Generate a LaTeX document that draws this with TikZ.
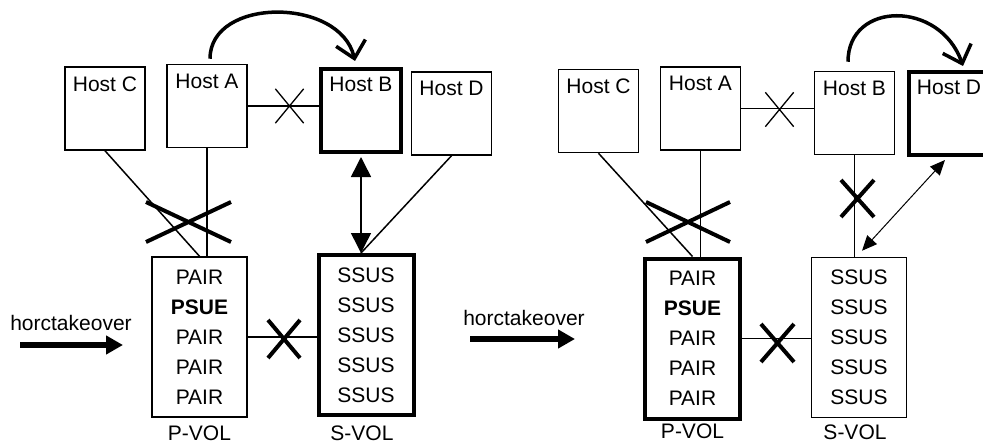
\documentclass[tikz,border=0pt]{standalone}
\usepackage{fontspec}
\setmainfont{Liberation Sans}
\usepackage{tikz}
\usetikzlibrary{arrows.meta,positioning,shapes.misc}

\begin{document}
\begin{tikzpicture}[x=1pt, y=-1pt, >=Stealth, font=\fontsize{21}{30}\selectfont,
    host/.style={draw, line width=1.5pt, minimum width=80pt, minimum height=83pt,
      label={[anchor=north, yshift=-8pt, inner sep=2pt]north:#1}},
    vol/.style={draw, line width=1.5pt, minimum width=95pt, minimum height=160pt, align=center},
    active/.style={line width=4pt},
    link/.style={line width=1.5pt},
    cut/.style={draw, cross out, line width=4pt, inner sep=0pt},
    move/.style={-{Straight Barb[length=16pt, width=30pt]}, line width=3.5pt},
    dual/.style={{Triangle[length=20pt, width=20pt]}-{Triangle[length=20pt, width=20pt]}, line width=1.5pt},
    dualthin/.style={{Triangle[length=15pt, width=13pt]}-{Triangle[length=15pt, width=13pt]}, line width=1pt},
    takeover/.style={-{Triangle[length=17pt, width=18pt]}, line width=6pt}]
  \useasboundingbox (0,0) rectangle (983,444);

  % before horctakeover
  \node[host=Host C] (hostCL) at (105,108.5) {};
  \node[host=Host A] (hostAL) at (207,106) {};
  \node[host=Host B, active] (hostBL) at (361,110.5) {};
  \node[host=Host D] (hostDL) at (451.5,113.5) {};
  \node[vol] (pvolL) at (199.5,337) {PAIR\\\textbf{PSUE}\\PAIR\\PAIR\\PAIR};
  \node[vol, active] (svolL) at (366,335) {SSUS\\SSUS\\SSUS\\SSUS\\SSUS};
  \node[below=5pt of pvolL] (pnameL) {P-VOL};
  \node[below=5pt of svolL, xshift=-4pt] (snameL) {S-VOL};
  \node (tkTextL) at (71,323) {horctakeover};
  \coordinate (tkFromL) at (20,345);
  \coordinate (tkToL) at (123,345);
  \draw[takeover] (tkFromL) -- (tkToL);

  \draw[move] ([xshift=3pt, yshift=5pt]hostAL.north) .. controls +(0,-62) and +(-15,-64) .. ([xshift=-6pt, yshift=6pt]hostBL.north);
  \draw[link] (hostAL.east) -- (hostAL.east -| hostBL.west);
  \draw[link] (hostCL.south) -- (pvolL.north);
  \draw[link] (hostAL.south) -- (hostAL.south |- pvolL.north);
  \draw[dual, shorten <=3pt] (hostBL.south) -- (hostBL.south |- svolL.north);
  \draw[link] (hostDL.south) -- (hostBL.south |- svolL.north);
  \draw[link] (pvolL.east) -- (pvolL.east -| svolL.west);
  \node[cut, minimum width=81pt, minimum height=36pt] (cutCL) at (188.5,222) {};
  \node[cut, line width=1.3pt, minimum width=27pt, minimum height=33pt] (cutABL) at (289.5,106) {};
  \node[cut, minimum width=28pt, minimum height=34pt] (cutPSL) at (284,339) {};

  % after horctakeover
  \node[host=Host C] (hostCR) at (598.5,111) {};
  \node[host=Host A] (hostAR) at (700.5,108.5) {};
  \node[host=Host B] (hostBR) at (854.5,113) {};
  \node[host=Host D, active] (hostDR) at (949,113.5) {};
  \node[vol, active] (pvolR) at (692.5,338.5) {PAIR\\\textbf{PSUE}\\PAIR\\PAIR\\PAIR};
  \node[vol] (svolR) at (859,337.5) {SSUS\\SSUS\\SSUS\\SSUS\\SSUS};
  \node[below=0pt of pvolR] (pnameR) {P-VOL};
  \node[below=3pt of svolR, xshift=-4pt] (snameR) {S-VOL};
  \node (tkTextR) at (524,318) {horctakeover};
  \coordinate (tkFromR) at (470,339);
  \coordinate (tkToR) at (575,339);
  \draw[takeover] (tkFromR) -- (tkToR);

  \draw[move] ([xshift=-6.5pt, yshift=9pt]hostBR.north) .. controls +(0,-61) and +(-23,-66) .. ([xshift=14pt, yshift=4pt]hostDR.north);
  \draw[link] (hostAR.east) -- (hostAR.east -| hostBR.west);
  \draw[link] (hostCR.south) -- (pvolR.north);
  \draw[link] (hostAR.south) -- (hostAR.south |- pvolR.north);
  \draw[link] (hostBR.south) -- (hostBR.south |- svolR.north);
  \draw[dualthin] ([xshift=3pt, yshift=6pt]svolR.north) -- ([xshift=-4pt, yshift=-3pt]hostDR.south);
  \draw[link] (pvolR.east) -- (pvolR.east -| svolR.west);
  \node[cut, minimum width=80pt, minimum height=36pt] (cutCR) at (688,222) {};
  \node[cut, line width=1.3pt, minimum width=27pt, minimum height=33pt] (cutABR) at (779.5,109.5) {};
  \node[cut, minimum width=29pt, minimum height=33pt] (cutBSR) at (857.5,198.5) {};
  \node[cut, minimum width=29pt, minimum height=34pt] (cutPSR) at (777.5,343) {};
\end{tikzpicture}
\end{document}
